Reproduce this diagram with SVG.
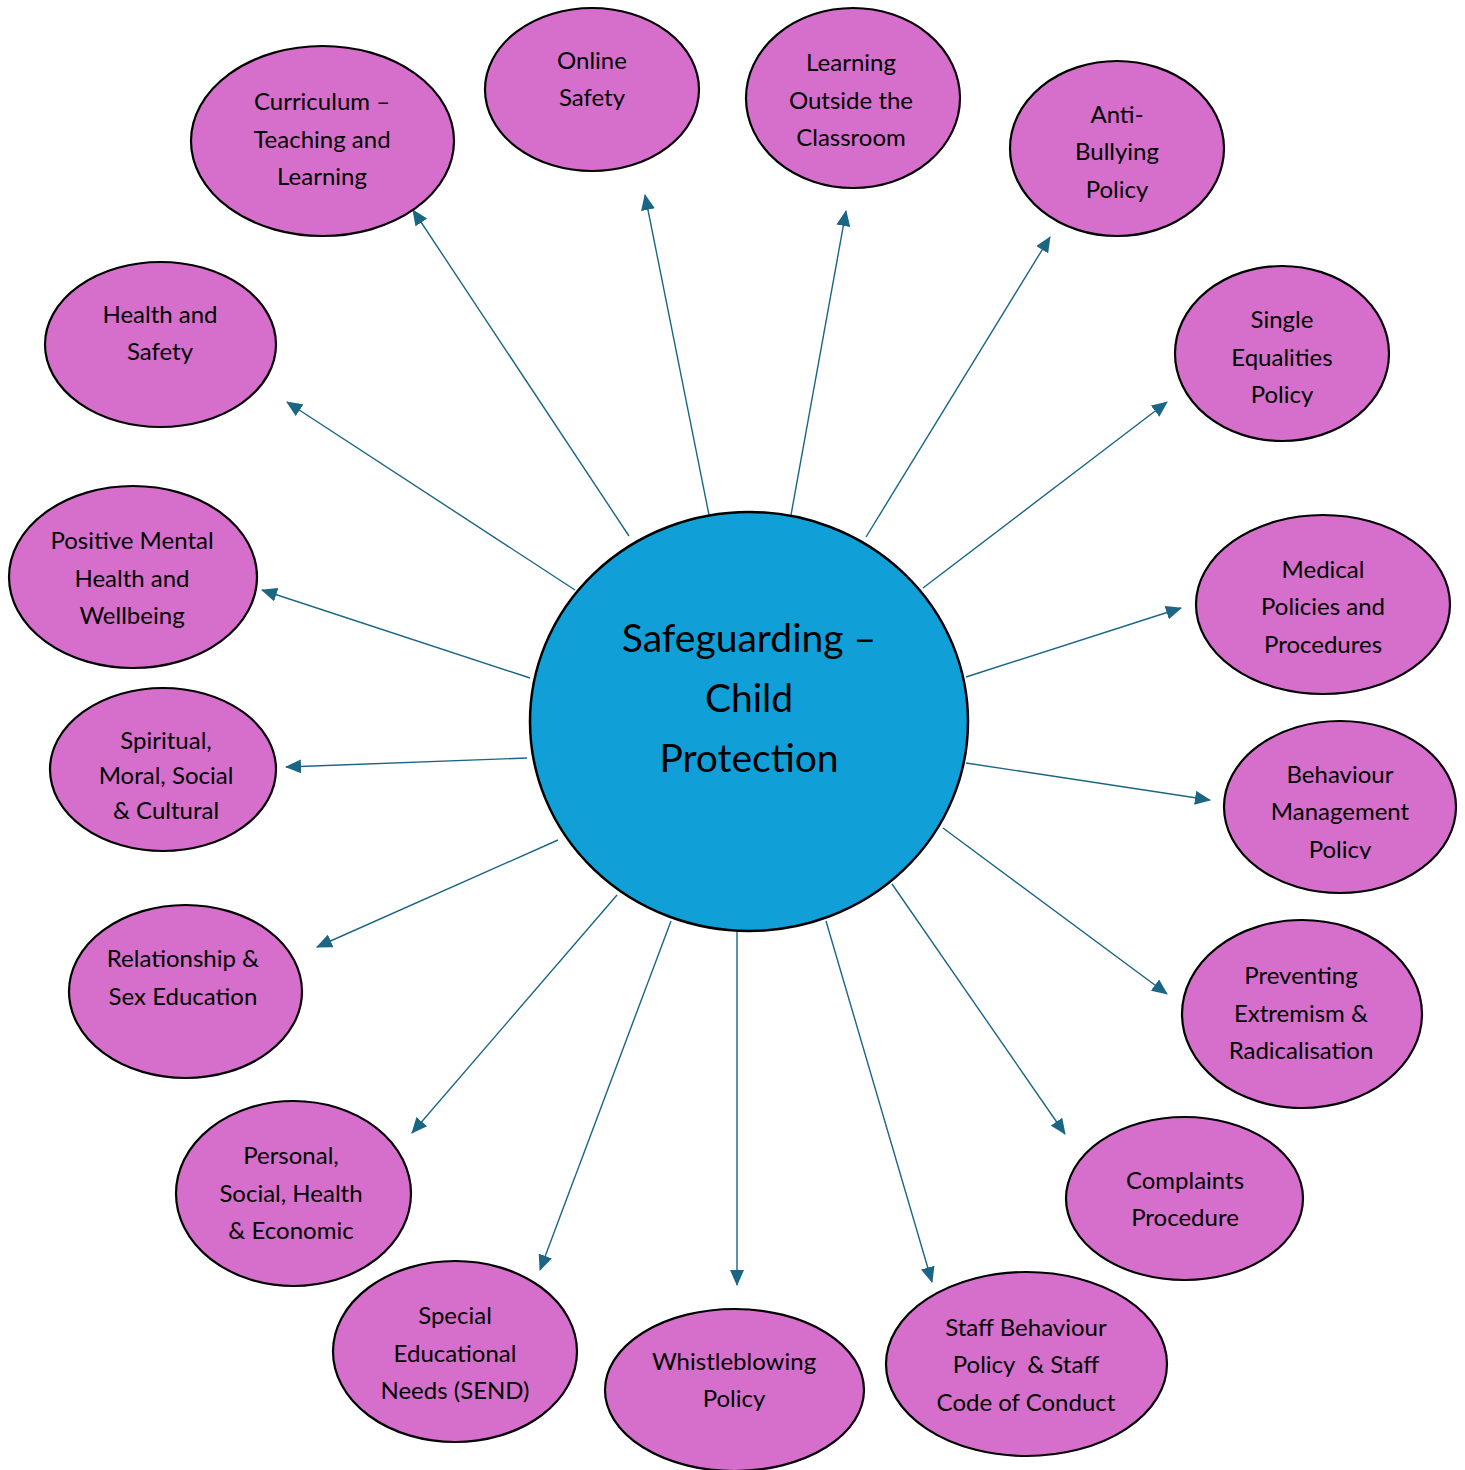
<svg xmlns="http://www.w3.org/2000/svg" width="1465" height="1470" viewBox="0 0 1465 1470">
<defs>
<style>
.n{fill:#D66FCB;stroke:#000;stroke-width:2.2}
.t{font-family:Lato,"Open Sans","Liberation Sans",sans-serif;font-size:24px;fill:#000;text-anchor:middle;white-space:pre}
.c{font-family:Lato,"Open Sans","Liberation Sans",sans-serif;font-size:39px;fill:#000;text-anchor:middle}
.e{stroke:#1B6585;stroke-width:1.4;fill:none;marker-end:url(#ah)}
</style>
<marker id="ah" markerUnits="userSpaceOnUse" markerWidth="16" markerHeight="14" refX="15" refY="7" orient="auto">
<path d="M0,0 L16,7 L0,14 Z" fill="#1B6585"/>
</marker>
<clipPath id="clipSp"><rect x="0" y="0" width="400" height="820"/></clipPath>
<clipPath id="clipBe"><rect x="1200" y="0" width="265" height="859"/></clipPath>
</defs>
<rect width="1465" height="1470" fill="#fff"/>
<g id="connectors">
<line class="e" x1="629" y1="536" x2="413" y2="210"/>
<line class="e" x1="709" y1="515" x2="645" y2="195"/>
<line class="e" x1="791" y1="515" x2="846" y2="211"/>
<line class="e" x1="866" y1="537" x2="1050" y2="237"/>
<line class="e" x1="923" y1="588" x2="1167" y2="402"/>
<line class="e" x1="966" y1="677" x2="1181" y2="608"/>
<line class="e" x1="966" y1="763" x2="1210" y2="800"/>
<line class="e" x1="943" y1="828" x2="1167" y2="994"/>
<line class="e" x1="892" y1="884" x2="1065" y2="1134"/>
<line class="e" x1="826" y1="921" x2="932" y2="1282"/>
<line class="e" x1="737" y1="932" x2="737" y2="1285"/>
<line class="e" x1="671" y1="921" x2="540" y2="1270"/>
<line class="e" x1="617" y1="895" x2="412" y2="1133"/>
<line class="e" x1="558" y1="840" x2="317" y2="947"/>
<line class="e" x1="527" y1="758" x2="286" y2="767"/>
<line class="e" x1="530" y1="678" x2="262" y2="590"/>
<line class="e" x1="575" y1="590" x2="287" y2="402"/>
</g>
<g id="center">
<ellipse cx="749" cy="721.5" rx="219" ry="209.5" fill="#109FD6" stroke="#000" stroke-width="2.5"/>
<text class="c" x="749" y="652">Safeguarding –</text>
<text class="c" x="749" y="712">Child</text>
<text class="c" x="749" y="772">Protection</text>
</g>
<g id="n-curriculum">
<ellipse class="n" cx="322.5" cy="141" rx="131.5" ry="95"/>
<text class="t" x="322" y="110">Curriculum –</text>
<text class="t" x="322" y="148">Teaching and</text>
<text class="t" x="322" y="185">Learning</text>
</g>
<g id="n-online">
<ellipse class="n" cx="592" cy="89.5" rx="107" ry="81.5"/>
<text class="t" x="592" y="69">Online</text>
<text class="t" x="592" y="106">Safety</text>
</g>
<g id="n-learning">
<ellipse class="n" cx="853" cy="98" rx="107" ry="90"/>
<text class="t" x="851" y="71">Learning</text>
<text class="t" x="851" y="109">Outside the</text>
<text class="t" x="851" y="146">Classroom</text>
</g>
<g id="n-antibullying">
<ellipse class="n" cx="1117" cy="148.5" rx="107" ry="87.5"/>
<text class="t" x="1117" y="123">Anti-</text>
<text class="t" x="1117" y="160">Bullying</text>
<text class="t" x="1117" y="198">Policy</text>
</g>
<g id="n-equalities">
<ellipse class="n" cx="1282" cy="353.5" rx="107" ry="87.5"/>
<text class="t" x="1282" y="328">Single</text>
<text class="t" x="1282" y="366">Equalities</text>
<text class="t" x="1282" y="403">Policy</text>
</g>
<g id="n-medical">
<ellipse class="n" cx="1323" cy="604.5" rx="127" ry="89.5"/>
<text class="t" x="1323" y="578">Medical</text>
<text class="t" x="1323" y="615">Policies and</text>
<text class="t" x="1323" y="653">Procedures</text>
</g>
<g id="n-behaviour">
<ellipse class="n" cx="1340" cy="807" rx="116" ry="86"/>
<g clip-path="url(#clipBe)">
<text class="t" x="1340" y="783">Behaviour</text>
<text class="t" x="1340" y="820">Management</text>
<text class="t" x="1340" y="858">Policy</text>
</g>
</g>
<g id="n-extremism">
<ellipse class="n" cx="1302" cy="1014" rx="120" ry="94"/>
<text class="t" x="1301" y="984">Preventing</text>
<text class="t" x="1301" y="1022">Extremism &amp;</text>
<text class="t" x="1301" y="1059">Radicalisation</text>
</g>
<g id="n-complaints">
<ellipse class="n" cx="1184.5" cy="1198.5" rx="118.5" ry="81.5"/>
<text class="t" x="1185" y="1189">Complaints</text>
<text class="t" x="1185" y="1226">Procedure</text>
</g>
<g id="n-staff">
<ellipse class="n" cx="1026.5" cy="1364" rx="140.5" ry="92"/>
<text class="t" x="1026" y="1336">Staff Behaviour</text>
<text class="t" x="1026" y="1373" xml:space="preserve">Policy  &amp; Staff</text>
<text class="t" x="1026" y="1411">Code of Conduct</text>
</g>
<g id="n-whistle">
<ellipse class="n" cx="734.5" cy="1390" rx="129.5" ry="81"/>
<text class="t" x="734" y="1370">Whistleblowing</text>
<text class="t" x="734" y="1407">Policy</text>
</g>
<g id="n-send">
<ellipse class="n" cx="455" cy="1351.5" rx="122" ry="90.5"/>
<text class="t" x="455" y="1324">Special</text>
<text class="t" x="455" y="1362">Educational</text>
<text class="t" x="455" y="1399">Needs (SEND)</text>
</g>
<g id="n-pshe">
<ellipse class="n" cx="293.5" cy="1193.5" rx="117.5" ry="92.5"/>
<text class="t" x="291" y="1164">Personal,</text>
<text class="t" x="291" y="1202">Social, Health</text>
<text class="t" x="291" y="1239">&amp; Economic</text>
</g>
<g id="n-rse">
<ellipse class="n" cx="185.5" cy="991.5" rx="116.5" ry="86.5"/>
<text class="t" x="183" y="967">Relationship &amp;</text>
<text class="t" x="183" y="1005">Sex Education</text>
</g>
<g id="n-smsc">
<ellipse class="n" cx="163" cy="769.5" rx="113" ry="81.5"/>
<g clip-path="url(#clipSp)">
<text class="t" x="166" y="749">Spiritual,</text>
<text class="t" x="166" y="784">Moral, Social</text>
<text class="t" x="166" y="819">&amp; Cultural</text>
</g>
</g>
<g id="n-mental">
<ellipse class="n" cx="133" cy="577" rx="124" ry="91"/>
<text class="t" x="132" y="549">Positive Mental</text>
<text class="t" x="132" y="587">Health and</text>
<text class="t" x="132" y="624">Wellbeing</text>
</g>
<g id="n-health">
<ellipse class="n" cx="160.5" cy="344.5" rx="115.5" ry="82.5"/>
<text class="t" x="160" y="323">Health and</text>
<text class="t" x="160" y="360">Safety</text>
</g>
</svg>
